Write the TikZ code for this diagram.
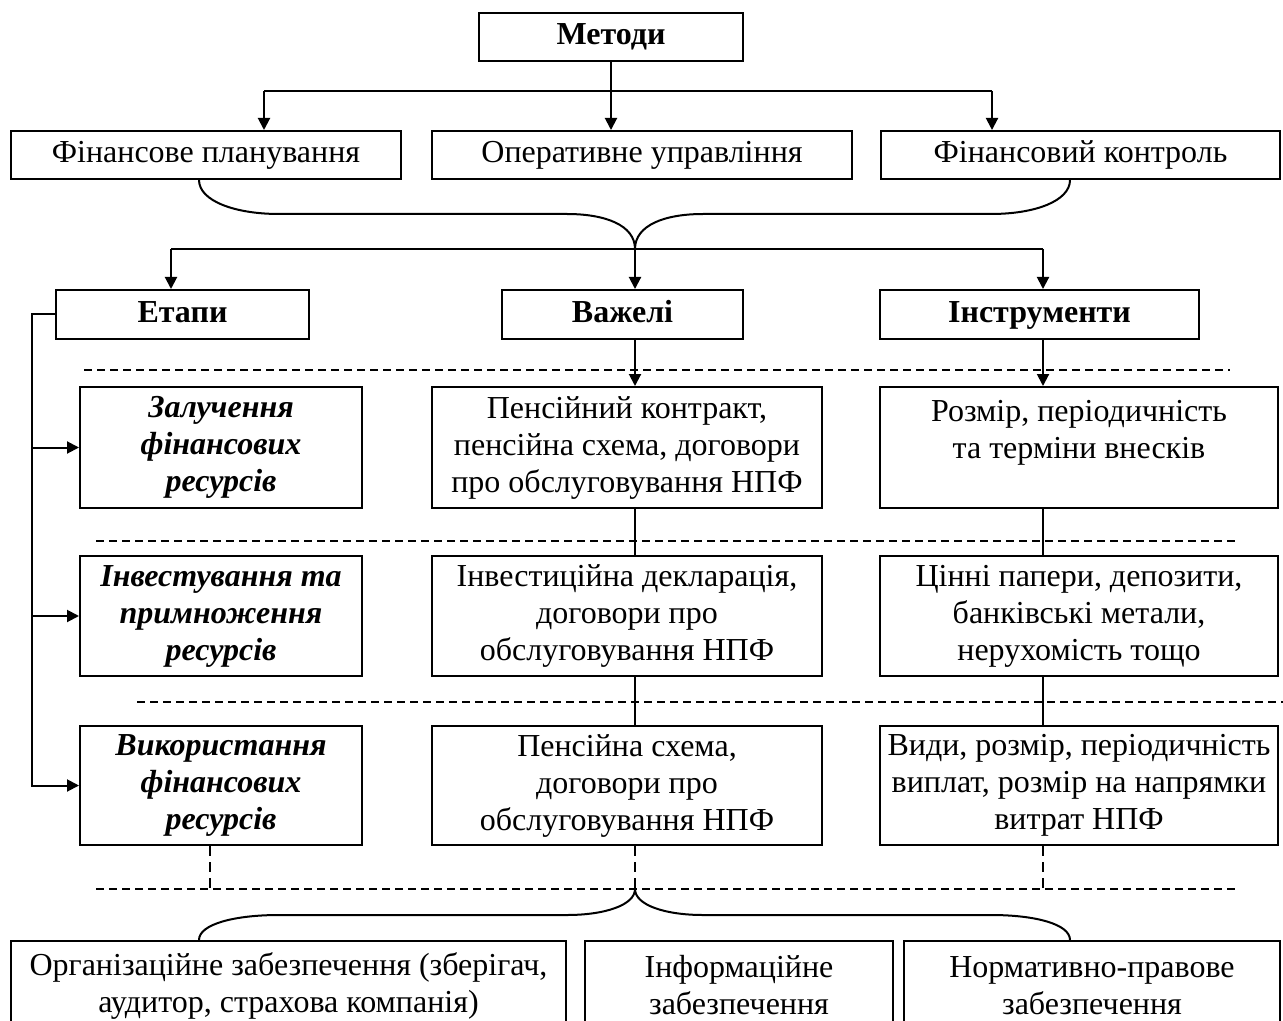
\documentclass[tikz,border=0pt]{standalone}
\usepackage{fontspec}
\setmainfont{Liberation Serif}
\usetikzlibrary{arrows.meta}

\begin{document}
\begin{tikzpicture}[x=0.5pt,y=-0.5pt,line width=1pt,>={Triangle[length=6pt,width=6pt]},
  box/.style={draw,align=center,inner sep=2pt,font=\fontsize{16pt}{18.5pt}\selectfont},
  oneline/.style={text height=11pt,text depth=3.5pt},
  head/.style={box,oneline,font=\fontsize{16pt}{18.5pt}\selectfont\bfseries},
  stage/.style={box,font=\fontsize{16pt}{18.5pt}\selectfont\bfseries\itshape},
  sepline/.style={dash pattern=on 4pt off 2.5pt},
  link/.style={dash pattern=on 5pt off 3pt}]
  \useasboundingbox (0,0) rectangle (1283,1021);
  \node[head,minimum width=132pt,minimum height=24pt] (metody) at (611,37) {Методи};
  \node[box,oneline,minimum width=195pt,minimum height=24pt] (plan) at (206,155) {Фінансове планування};
  \node[box,oneline,minimum width=210pt,minimum height=24pt] (oper) at (642,155) {Оперативне управління};
  \node[box,oneline,minimum width=199.5pt,minimum height=24pt] (kontr) at (1080.5,155) {Фінансовий контроль};
  \node[head,minimum width=126.5pt,minimum height=24.5pt] (etapy) at (182.5,314.5) {Етапи};
  \node[head,minimum width=120.5pt,minimum height=24.5pt] (vazheli) at (622.5,314.5) {Важелі};
  \node[head,minimum width=159.5pt,minimum height=24.5pt] (instr) at (1039.5,314.5) {Інструменти};
  \node[stage,minimum width=141pt,minimum height=60.5pt] (zal) at (221,447.5) {Залучення\\фінансових\\ресурсів};
  \node[box,minimum width=195pt,minimum height=60.5pt] (pk) at (627,447.5) {Пенсійний контракт,\\пенсійна схема, договори\\про обслуговування НПФ};
  \node[box,minimum width=199pt,minimum height=60.5pt] (rozm) at (1079,447.5) {Розмір, періодичність\\та терміни внесків\\~};
  \node[stage,minimum width=141pt,minimum height=60pt] (inv) at (221,616) {Інвестування та\\примноження\\ресурсів};
  \node[box,minimum width=195pt,minimum height=60pt] (ind) at (627,616) {Інвестиційна декларація,\\договори про\\обслуговування НПФ};
  \node[box,minimum width=199pt,minimum height=60pt] (cin) at (1079,616) {Цінні папери, депозити,\\банківські метали,\\нерухомість тощо};
  \node[stage,minimum width=141pt,minimum height=59.5pt] (vyk) at (221,785.5) {Використання\\фінансових\\ресурсів};
  \node[box,minimum width=195pt,minimum height=59.5pt] (ps) at (627,785.5) {Пенсійна схема,\\договори про\\обслуговування НПФ};
  \node[box,minimum width=199pt,minimum height=59.5pt] (vydy) at (1079,785.5) {Види, розмір, періодичність\\виплат, розмір на напрямки\\витрат НПФ};
  \node[box,minimum width=277.5pt,minimum height=44.5pt] (org) at (288.5,985.5) {Організаційне забезпечення (зберігач,\\аудитор, страхова компанія)};
  \node[box,minimum width=154pt,minimum height=44.5pt] (inf) at (739,985.5) {Інформаційне\\забезпечення};
  \node[box,minimum width=188pt,minimum height=44.5pt] (norm) at (1092,985.5) {Нормативно-правове\\забезпечення};
  \coordinate (m1) at (264,91);
  \coordinate (m2) at (611,91);
  \coordinate (m3) at (992,91);
  \coordinate (hubA) at (635,249);
  \coordinate (e1) at (171,249);
  \coordinate (e3) at (1043,249);
  \coordinate (rail) at (32,0);
  \coordinate (hubB) at (635,889);
  \coordinate (v1) at (210,889);
  \draw (metody) -- (m2);
  \draw (m1) -- (m3);
  \draw[->] (m1) -- (m1 |- plan.north);
  \draw[->] (m2) -- (m2 |- oper.north);
  \draw[->] (m3) -- (m3 |- kontr.north);
  \draw (plan.south -| 199,0) .. controls +(0,21) and +(-44,0) .. (279,214) -- (567,214) .. controls +(38,0) and +(0,-24) .. (hubA);
  \draw (kontr.south -| 1070,0) .. controls +(0,21) and +(44,0) .. (991,214) -- (703,214) .. controls +(-38,0) and +(0,-24) .. (hubA);
  \draw (e1) -- (e3);
  \draw[->] (e1) -- (e1 |- etapy.north);
  \draw[->] (hubA) -- (hubA |- vazheli.north);
  \draw[->] (e3) -- (e3 |- instr.north);
  \draw[->] (etapy.west) -| (rail |- vyk.west) -- (vyk.west);
  \draw[->] (rail |- zal.west) -- (zal.west);
  \draw[->] (rail |- inv.west) -- (inv.west);
  \draw[->] (hubA |- vazheli.south) -- (hubA |- pk.north);
  \draw (hubA |- pk.south) -- (hubA |- ind.north);
  \draw (hubA |- ind.south) -- (hubA |- ps.north);
  \draw[->] (e3 |- instr.south) -- (e3 |- rozm.north);
  \draw (e3 |- rozm.south) -- (e3 |- cin.north);
  \draw (e3 |- cin.south) -- (e3 |- vydy.north);
  \draw[sepline] (84,370) -- (1230,370);
  \draw[sepline] (96,541) -- (1239,541);
  \draw[sepline] (137,702) -- (1283,702);
  \draw[sepline] (96,889) -- (1239,889);
  \draw[link] (v1 |- vyk.south) -- (v1);
  \draw[link] (hubB |- ps.south) -- (hubB);
  \draw[link] (e3 |- vydy.south) -- (e3 |- hubB);
  \draw (hubB) .. controls +(0,16) and +(38,0) .. (567,915) -- (279,915) .. controls +(-44,0) and +(0,-16) .. (org.north -| 199,0);
  \draw (hubB) .. controls +(0,16) and +(-38,0) .. (703,915) -- (991,915) .. controls +(44,0) and +(0,-16) .. (norm.north -| 1070,0);
\end{tikzpicture}
\end{document}
